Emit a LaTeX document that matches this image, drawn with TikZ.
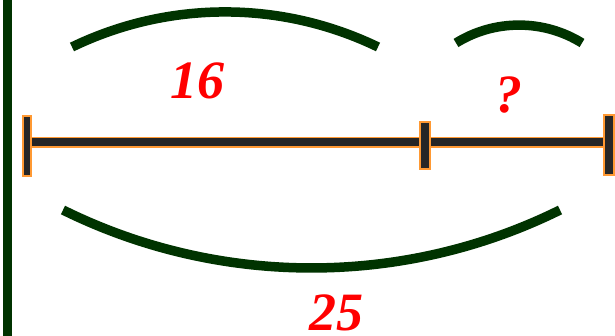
\documentclass[tikz,border=0pt]{standalone}
\usepackage{fontspec}
\setmainfont{Liberation Serif}
\usepackage{tikz}
\usetikzlibrary{positioning,backgrounds}
\definecolor{brgreen}{RGB}{0,51,0}
\definecolor{brbar}{RGB}{38,38,38}
\definecolor{brorange}{RGB}{255,153,51}

\begin{document}
\begin{tikzpicture}[
    x=1pt, y=-1pt,
    tickmark/.style={draw=brorange, line width=1.8pt, fill=brbar, inner sep=0pt},
    brace/.style={draw=brgreen, line width=9.5pt},
    num/.style={text=red, inner sep=0pt,
                font=\fontsize{54}{54}\selectfont\bfseries\itshape}
]
    \useasboundingbox (0,0) rectangle (615,336);

    % Tick marks
    \node[tickmark, minimum width=8.5pt, minimum height=60.5pt] (startmark) at (27,146) {};
    \node[tickmark, minimum width=10.5pt, minimum height=47.5pt] (midmark) at (425,145.5) {};
    \node[tickmark, minimum width=10.5pt, minimum height=60.5pt] (endmark) at (609,145) {};

    % Bar
    \begin{scope}[on background layer]
        \draw[draw=brorange, line width=1.8pt, double=brbar, double distance=8pt]
            ([yshift=3.5pt]startmark.center) -- ([yshift=2.5pt]endmark.center);
    \end{scope}

    % Left edge
    \draw[brace, line width=8.5pt] (7.5,0) -- (7.5,336);

    % Braces
    \draw[brace] (72,47) to[bend left=25.8, looseness=0.9] (378,47);
    \draw[brace] (456,43) to[bend left=31.9, looseness=0.92] (582,43);
    \draw[brace] (63,210) to[bend right=26.3, looseness=0.9] (560,210);

    % Numbers
    \node[num] (part) at (197,81) {16};
    \node[num] (unknown) at (509,95) {?};
    \node[num] (whole) at (336,313) {25};
\end{tikzpicture}
\end{document}
